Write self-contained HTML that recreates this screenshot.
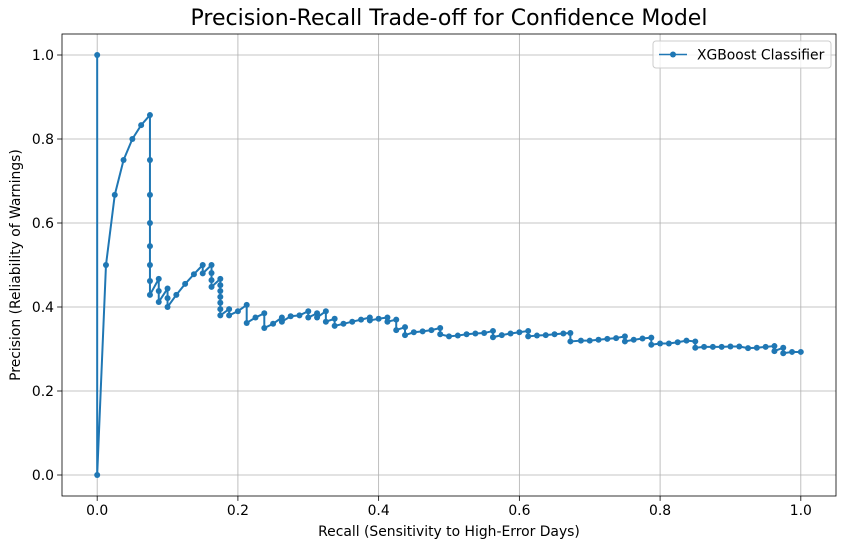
<!DOCTYPE html>
<html><head><meta charset="utf-8"><style>
body{margin:0;background:#fff;}
svg{display:block;font-family:"DejaVu Sans","Liberation Sans",sans-serif;}
</style></head><body>
<svg id="chart" width="846" height="549"></svg>
<script>
const recallVals=[0,0,0.0125,0.025,0.0375,0.05,0.0625,0.075,0.075,0.075,0.075,0.075,0.075,0.075,0.075,0.0875,0.0875,0.0875,0.1,0.1,0.1,0.1125,0.125,0.1375,0.15,0.15,0.1625,0.1625,0.1625,0.1625,0.175,0.175,0.175,0.175,0.175,0.175,0.175,0.1875,0.1875,0.2,0.2125,0.2125,0.225,0.2375,0.2375,0.25,0.2625,0.2625,0.275,0.2875,0.3,0.3,0.3125,0.3125,0.325,0.325,0.3375,0.3375,0.35,0.3625,0.375,0.3875,0.3875,0.4,0.4125,0.4125,0.425,0.425,0.4375,0.4375,0.45,0.4625,0.475,0.4875,0.4875,0.5,0.5125,0.525,0.5375,0.55,0.5625,0.5625,0.575,0.5875,0.6,0.6125,0.6125,0.625,0.6375,0.65,0.6625,0.6725,0.6725,0.6875,0.7,0.7125,0.725,0.7375,0.75,0.75,0.7625,0.775,0.7875,0.7875,0.8,0.8125,0.825,0.8375,0.85,0.85,0.8625,0.875,0.8875,0.9,0.9125,0.925,0.9375,0.95,0.9625,0.9625,0.975,0.975,0.9875,1.0];
const precisionVals=[1,0,0.5,0.667,0.75,0.8,0.833,0.857,0.75,0.667,0.6,0.545,0.5,0.462,0.429,0.467,0.438,0.412,0.444,0.421,0.4,0.429,0.455,0.478,0.5,0.48,0.5,0.481,0.464,0.448,0.467,0.452,0.438,0.424,0.41,0.395,0.38,0.395,0.38,0.39,0.405,0.362,0.375,0.385,0.35,0.36,0.375,0.365,0.378,0.38,0.39,0.375,0.385,0.375,0.39,0.365,0.372,0.355,0.36,0.365,0.37,0.375,0.368,0.372,0.375,0.365,0.37,0.345,0.352,0.333,0.34,0.342,0.345,0.35,0.335,0.33,0.332,0.335,0.337,0.338,0.343,0.328,0.333,0.337,0.34,0.343,0.33,0.332,0.333,0.335,0.337,0.338,0.318,0.32,0.32,0.322,0.324,0.326,0.33,0.318,0.322,0.325,0.327,0.31,0.313,0.313,0.316,0.32,0.318,0.303,0.305,0.305,0.305,0.306,0.306,0.302,0.303,0.305,0.307,0.295,0.303,0.29,0.293,0.293];
const xTicks=[0,0.2,0.4,0.6,0.8,1.0];
const xTickLabels=["0.0","0.2","0.4","0.6","0.8","1.0"];
const yTicks=[0,0.2,0.4,0.6,0.8,1.0];
const yTickLabels=["0.0","0.2","0.4","0.6","0.8","1.0"];

const NS="http://www.w3.org/2000/svg";
const svg=document.getElementById('chart');
const L=62,R=836,T=34,B=496;
const xs=v=>L+(v+0.05)/1.1*(R-L);
const ys=v=>B-(v+0.05)/1.1*(B-T);
function mk(tag,attrs,parent){const e=document.createElementNS(NS,tag);for(const k in attrs)e.setAttribute(k,attrs[k]);(parent||svg).appendChild(e);return e;}

const grid=mk('g',{});


xTicks.forEach((t,i)=>{
  const g=mk('line',{x1:xs(t),x2:xs(t),y1:T,y2:B,stroke:'#b0b0b0','stroke-width':0.8},grid);
  
  
  const tk=mk('line',{x1:xs(t),x2:xs(t),y1:B,y2:B+4.9,stroke:'#000','stroke-width':0.8});
  
  
  const tl=mk('text',{x:xs(t),y:B+19,'text-anchor':'middle','font-size':13.9});
  tl.textContent=xTickLabels[i];
  
  
});
yTicks.forEach((t,i)=>{
  const g=mk('line',{x1:L,x2:R,y1:ys(t),y2:ys(t),stroke:'#b0b0b0','stroke-width':0.8},grid);
  
  
  const tk=mk('line',{x1:L-4.9,x2:L,y1:ys(t),y2:ys(t),stroke:'#000','stroke-width':0.8});
  
  
  const tl=mk('text',{x:L-8,y:ys(t)+5,'text-anchor':'end','font-size':13.9});
  tl.textContent=yTickLabels[i];
  
  
});

const series=mk('g',{});


const pts=recallVals.map((r,i)=>xs(r).toFixed(2)+','+ys(precisionVals[i]).toFixed(2)).join(' ');
const line=mk('polyline',{points:pts,fill:'none',stroke:'#1f77b4','stroke-width':2,'stroke-linejoin':'round'},series);


recallVals.forEach((r,i)=>{
  const c=mk('circle',{cx:xs(r),cy:ys(precisionVals[i]),r:3,fill:'#1f77b4'},series);
  
  
});

const frame=mk('rect',{x:L,y:T,width:R-L,height:B-T,fill:'none',stroke:'#000','stroke-width':0.8});



const title=mk('text',{x:(L+R)/2,y:T-9,'text-anchor':'middle','font-size':22});
title.textContent='Precision-Recall Trade-off for Confidence Model';


const xt=mk('text',{x:(L+R)/2,y:536,'text-anchor':'middle','font-size':13.9});
xt.textContent='Recall (Sensitivity to High-Error Days)';


const yt=mk('text',{x:20,y:(T+B)/2,'text-anchor':'middle','font-size':13.9,transform:'rotate(-90 20 '+((T+B)/2)+')'});
yt.textContent='Precision (Reliability of Warnings)';



const leg=mk('g',{});


mk('rect',{x:653,y:41,width:178,height:27,rx:3,fill:'#fff',stroke:'#ccc','stroke-width':1,'fill-opacity':0.8},leg);
mk('line',{x1:659,x2:687,y1:54.5,y2:54.5,stroke:'#1f77b4','stroke-width':1.5},leg);
mk('circle',{cx:673,cy:54.5,r:3,fill:'#1f77b4'},leg);
const lt=mk('text',{x:697,y:59.5,'font-size':13.9},leg);
lt.textContent='XGBoost Classifier';


</script>
</body></html>
